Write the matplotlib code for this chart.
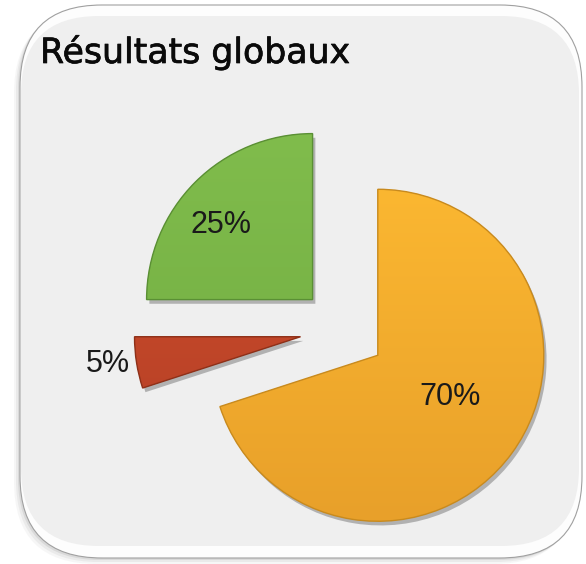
import numpy as np
import matplotlib
matplotlib.use("Agg")
import matplotlib.pyplot as plt
import matplotlib.patheffects as pe
from matplotlib.patches import FancyBboxPatch, Wedge
from matplotlib.colors import LinearSegmentedColormap

# data
title = "Résultats globaux"
segments = ["Segment A", "Segment B", "Segment C"]
shares = [70, 5, 25]
pct_labels = ["70%", "5%", "25%"]

# styling
face_top = ["#FBB731", "#CF4E2E", "#80BC4C"]
face_bottom = ["#E8A02A", "#B23E24", "#72AD42"]
edge_colors = ["#C88A1E", "#8E3018", "#5A8F34"]
label_dist = [0.50, 1.17, 0.71]
label_turn = [6, -1, 6]

W, H = 586, 564
fig = plt.figure(figsize=(W / 100, H / 100), dpi=100)
ax = fig.add_axes([0, 0, 1, 1])
fig.patch.set_facecolor("white")

# card with soft shadow and bevel
for k, a in [(6, 0.05), (4, 0.08), (2, 0.12)]:
    ax.add_patch(FancyBboxPatch((20 - k, 6 - k), 562, 553, boxstyle="round,pad=0,rounding_size=82",
                                fc="#606060", ec="none", alpha=a, zorder=0))
ax.add_patch(FancyBboxPatch((20, 6), 562, 553, boxstyle="round,pad=0,rounding_size=82",
                            fc="#FDFDFD", ec="#A0A0A0", lw=0.8, zorder=0.5))
ax.add_patch(FancyBboxPatch((21, 18), 558, 530, boxstyle="round,pad=0,rounding_size=78",
                            fc="#EFEFEF", ec="none", zorder=0.6))

wedges, _ = ax.pie(shares, explode=[43, 43, 43], startangle=90, counterclock=False,
                   center=(343, 234), radius=166, colors=face_top,
                   wedgeprops=dict(linewidth=0), frame=True)

for i, w in enumerate(wedges):
    w.set_zorder(2)
    w.set_path_effects([pe.SimplePatchShadow(offset=(2, -3), shadow_rgbFace="#555555", alpha=0.4),
                        pe.Normal()])
    cx, cy = w.center
    r = w.r
    cmap = LinearSegmentedColormap.from_list("g%d" % i, [face_bottom[i], face_top[i]])
    grad = np.linspace(0, 1, 256).reshape(-1, 1)
    im = ax.imshow(grad, cmap=cmap, origin="lower", aspect="auto",
                   extent=[cx - r, cx + r, cy - r, cy + r], zorder=2.1)
    im.set_clip_path(w)
    ax.add_patch(Wedge((cx, cy), r, w.theta1, w.theta2, fill=False,
                       ec=edge_colors[i], lw=1.0, zorder=2.2))
    tm = np.deg2rad((w.theta1 + w.theta2) / 2 + label_turn[i])
    ax.text(cx + label_dist[i] * r * np.cos(tm), cy + label_dist[i] * r * np.sin(tm),
            pct_labels[i], ha="center", va="center", fontsize=22,
            family="Liberation Sans", color="#1A1A1A", zorder=3)

ax.text(40, 501, title, ha="left", va="baseline", fontsize=25,
        family="DejaVu Sans", color="#0A0A0A", zorder=3,
        path_effects=[pe.withStroke(linewidth=0.5, foreground="#0A0A0A")])

ax.set_xlim(0, W)
ax.set_ylim(0, H)
ax.set_aspect("equal")
ax.axis("off")

fig.savefig("out.png", dpi=100)
